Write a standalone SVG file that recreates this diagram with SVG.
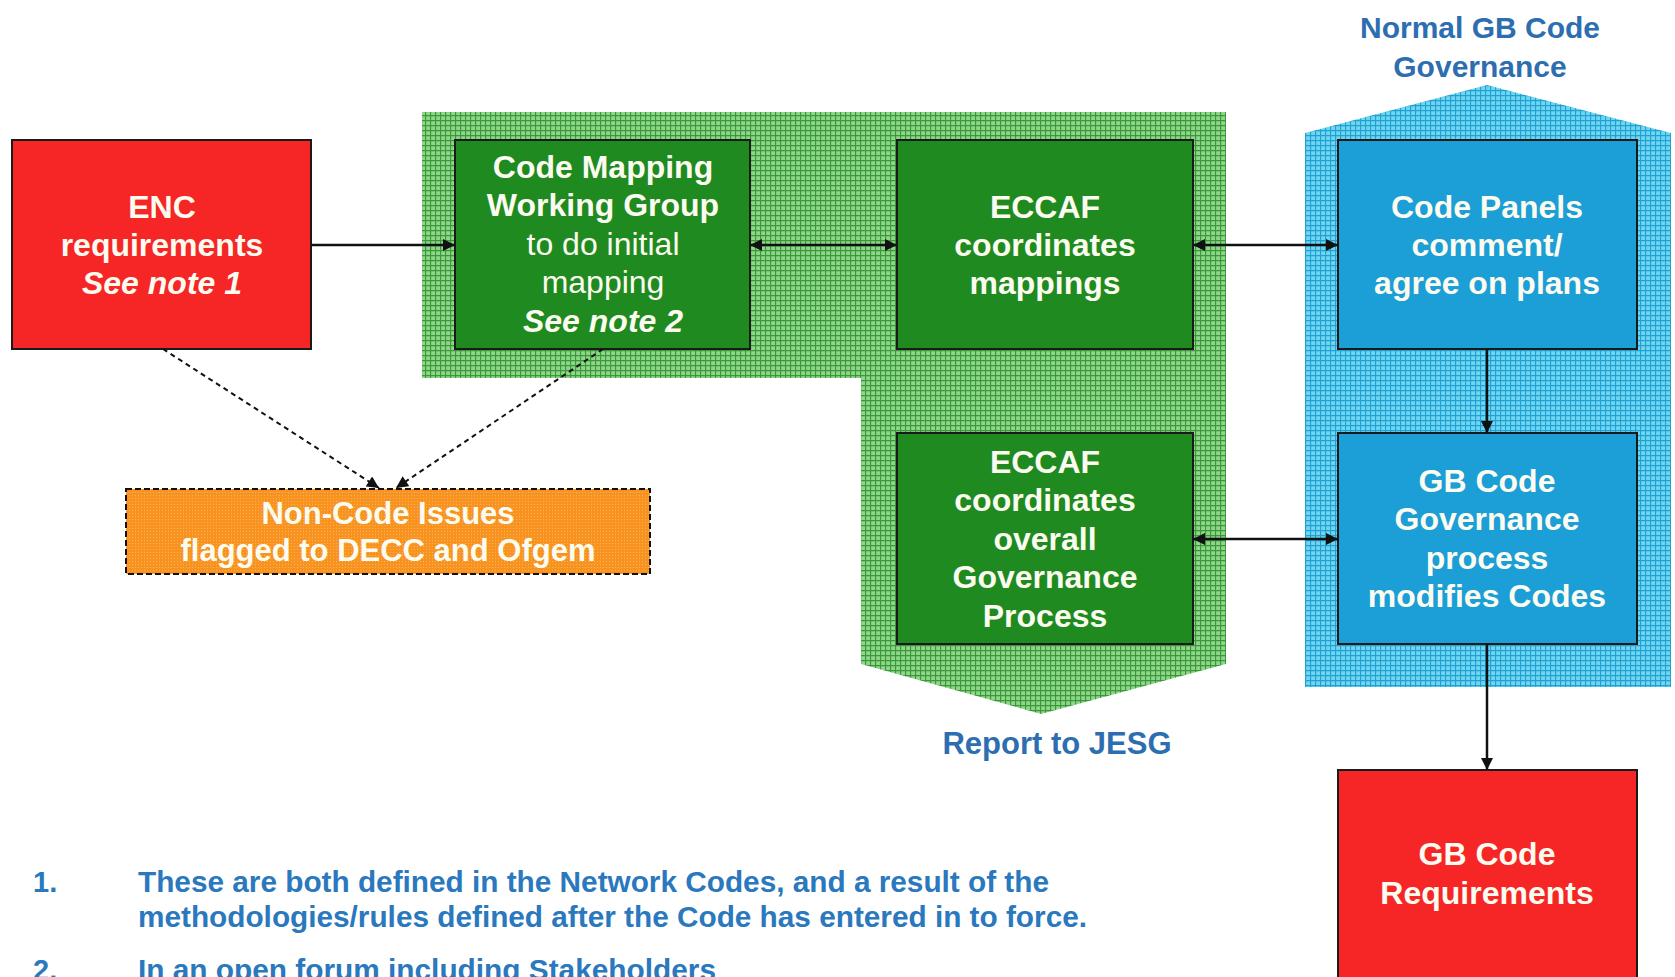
<svg xmlns="http://www.w3.org/2000/svg" width="1675" height="977" viewBox="0 0 1675 977">
<defs>
<pattern id="gridG" width="5" height="5" patternUnits="userSpaceOnUse">
<rect width="5" height="5" fill="#8fd68a"/>
<path d="M0 0.5H5M0.5 0V5" stroke="#3a983a" stroke-width="1.3"/>
</pattern>
<pattern id="gridB" width="5" height="5" patternUnits="userSpaceOnUse">
<rect width="5" height="5" fill="#6fd6f2"/>
<path d="M0 0.5H5M0.5 0V5" stroke="#22a0d2" stroke-width="1.3"/>
</pattern>
<pattern id="dotO" width="3" height="3" patternUnits="userSpaceOnUse">
<rect width="3" height="3" fill="#f7931e"/>
<rect width="1" height="1" fill="#fbb05a"/>
</pattern>
<marker id="ah" viewBox="0 0 10 10" refX="10" refY="5" markerWidth="13" markerHeight="12" markerUnits="userSpaceOnUse" orient="auto-start-reverse">
<path d="M0 0L10 5L0 10Z" fill="#111"/>
</marker>
</defs>
<style>
.box{stroke:#1a1a1a;stroke-width:2}
.red{fill:#f62626}
.grn{fill:#1f8a1f}
.blu{fill:#1c9ed6}
.t{font-family:"Liberation Sans",Arial,sans-serif;font-weight:bold;font-size:32px;fill:#fbfbf0;text-anchor:middle}
.r{font-weight:normal}
.i{font-style:italic}
.lbl{font-family:"Liberation Sans",Arial,sans-serif;font-weight:bold;fill:#2d6eb0;text-anchor:middle}
.note{font-family:"Liberation Sans",Arial,sans-serif;font-weight:bold;font-size:29px;fill:#2a78bd}
.c{stroke:#111;stroke-width:2.5;fill:none}
.d{stroke:#111;stroke-width:2;fill:none;stroke-dasharray:5 4}
</style>

<g id="green-region">
<polygon points="422,112 1226,112 1226,664 1041,714 861,664 861,378 422,378" fill="url(#gridG)"/>
</g>
<g id="blue-region">
<polygon points="1305,133 1487,85 1671,133 1671,687 1305,687" fill="url(#gridB)"/>
<text class="lbl" x="1480" y="38" font-size="30">Normal GB Code</text>
<text class="lbl" x="1480" y="77" font-size="30">Governance</text>
</g>

<g id="enc">
<rect class="box red" x="12" y="140" width="299" height="209"/>
<text class="t" x="162" y="218">ENC</text>
<text class="t" x="162" y="256">requirements</text>
<text class="t i" x="162" y="294">See note 1</text>
</g>

<g id="code-mapping">
<rect class="box grn" x="455" y="140" width="295" height="209"/>
<text class="t" x="603" y="178">Code Mapping</text>
<text class="t" x="603" y="216">Working Group</text>
<text class="t r" x="603" y="255">to do initial</text>
<text class="t r" x="603" y="293">mapping</text>
<text class="t i" x="603" y="332">See note 2</text>
</g>

<g id="eccaf-mappings">
<rect class="box grn" x="897" y="140" width="296" height="209"/>
<text class="t" x="1045" y="218">ECCAF</text>
<text class="t" x="1045" y="256">coordinates</text>
<text class="t" x="1045" y="294">mappings</text>
</g>

<g id="code-panels">
<rect class="box blu" x="1338" y="140" width="299" height="209"/>
<text class="t" x="1487" y="218">Code Panels</text>
<text class="t" x="1487" y="256">comment/</text>
<text class="t" x="1487" y="294">agree on plans</text>
</g>

<g id="eccaf-overall">
<rect class="box grn" x="897" y="433" width="296" height="211"/>
<text class="t" x="1045" y="473">ECCAF</text>
<text class="t" x="1045" y="511">coordinates</text>
<text class="t" x="1045" y="550">overall</text>
<text class="t" x="1045" y="588">Governance</text>
<text class="t" x="1045" y="627">Process</text>
</g>

<g id="gb-governance">
<rect class="box blu" x="1338" y="433" width="299" height="211"/>
<text class="t" x="1487" y="492">GB Code</text>
<text class="t" x="1487" y="530">Governance</text>
<text class="t" x="1487" y="569">process</text>
<text class="t" x="1487" y="607">modifies Codes</text>
</g>

<g id="gb-requirements">
<rect class="box red" x="1338" y="770" width="299" height="220"/>
<text class="t" x="1487" y="865">GB Code</text>
<text class="t" x="1487" y="904">Requirements</text>
</g>

<g id="non-code">
<rect x="126" y="489" width="524" height="85" fill="url(#dotO)" stroke="#111" stroke-width="2" stroke-dasharray="6 3"/>
<text class="t" x="388" y="524" style="font-size:31px">Non-Code Issues</text>
<text class="t" x="388" y="561" style="font-size:31px">flagged to DECC and Ofgem</text>
</g>

<g id="report-label">
<text class="lbl" x="1057" y="754" font-size="31">Report to JESG</text>
</g>

<g id="notes">
<text class="note" x="33" y="892">1.</text>
<text class="note" x="138" y="892" textLength="911" lengthAdjust="spacingAndGlyphs">These are both defined in the Network Codes, and a result of the</text>
<text class="note" x="138" y="927" textLength="949" lengthAdjust="spacingAndGlyphs">methodologies/rules defined after the Code has entered in to force.</text>
<text class="note" x="33" y="980">2.</text>
<text class="note" x="138" y="980" textLength="578" lengthAdjust="spacingAndGlyphs">In an open forum including Stakeholders</text>
</g>

<g id="connectors">
<line class="c" x1="311" y1="245" x2="455" y2="245" marker-end="url(#ah)"/>
<line class="c" x1="750" y1="245" x2="897" y2="245" marker-start="url(#ah)" marker-end="url(#ah)"/>
<line class="c" x1="1193" y1="245" x2="1338" y2="245" marker-start="url(#ah)" marker-end="url(#ah)"/>
<line class="c" x1="1193" y1="539" x2="1338" y2="539" marker-start="url(#ah)" marker-end="url(#ah)"/>
<line class="c" x1="1487" y1="349" x2="1487" y2="433" stroke-width="2" marker-end="url(#ah)"/>
<line class="c" x1="1487" y1="644" x2="1487" y2="770" stroke-width="2" marker-end="url(#ah)"/>
<line class="d" x1="163" y1="349" x2="379" y2="488" marker-end="url(#ah)"/>
<line class="d" x1="603" y1="349" x2="396" y2="488" marker-end="url(#ah)"/>
</g>
</svg>
